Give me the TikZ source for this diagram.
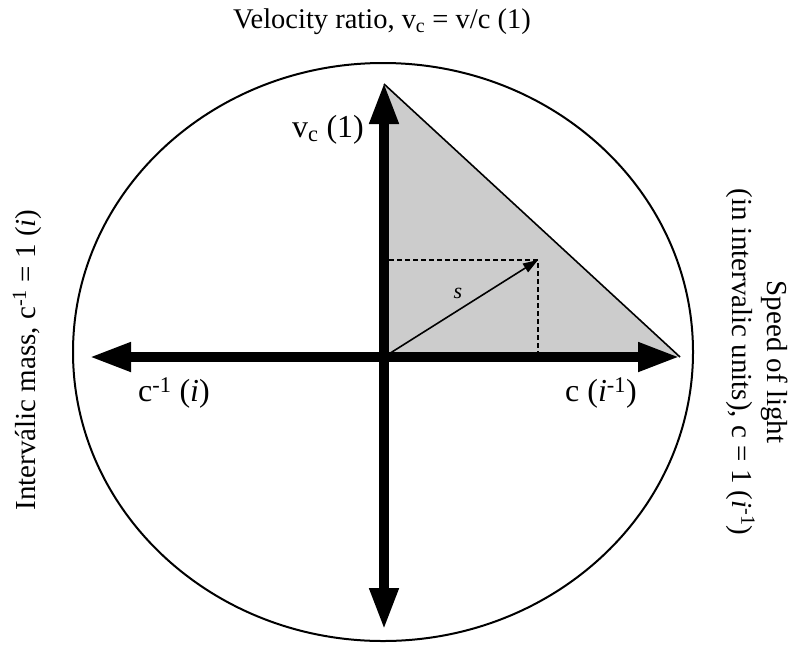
\documentclass[tikz,border=0pt]{standalone}
\usepackage{fontspec}
\setmainfont{Liberation Serif}
\usetikzlibrary{arrows.meta}
\tikzset{
  axis/.style={line width=10pt,{Triangle[length=42pt,width=27pt]}-{Triangle[length=42pt,width=27pt]}},
  thin/.style={line width=1.6pt},
  axlabel/.style={font=\fontsize{32}{36}\selectfont, inner sep=0pt},
  sidelabel/.style={font=\fontsize{29}{35}\selectfont, inner sep=0pt, align=center},
}
\begin{document}
\begin{tikzpicture}[x=1pt,y=-1pt]
\useasboundingbox (0,0) rectangle (791,646);
\coordinate (O) at (384,357);
\coordinate (T) at (384,82);
\coordinate (B) at (384,630);
\coordinate (L) at (89,357);
\coordinate (R) at (680,357);
\coordinate (TV) at (384,84);
\coordinate (P) at (538,260);
\coordinate (PX) at (538,357);
\coordinate (PY) at (389,260);
\fill[gray!40] (TV) -- (R) -- (O) -- cycle;
\draw[thin] (TV) -- (R);
\draw[thin, dashed, dash pattern=on 5pt off 3pt] (PY) -- (P) -- (PX);
\draw[thin, -{Triangle[length=15pt,width=10pt]}] (O) -- (P);
\draw[line width=2pt] (383,352) ellipse [x radius=310, y radius=289];
\draw[axis] (L) -- (R);
\draw[axis] (T) -- (B);
\node[font=\fontsize{22}{26}\selectfont\itshape] (s) at (458,293) {s};
\node[axlabel] (vc) at (328,130) {v\textsubscript{c} (1)};
\node[axlabel] (cinv) at (174,393) {c\textsuperscript{-1} (\textit{i})};
\node[axlabel] (c) at (601,393) {c (\textit{i}\textsuperscript{-1})};
\node[sidelabel, font=\fontsize{28.5}{34}\selectfont] (title) at (382,22) {Velocity ratio, v\textsubscript{c} = v/c (1)};
\node[sidelabel, rotate=90] (mass) at (27,360) {Interválic mass, c\textsuperscript{-1} = 1 (\textit{i})};
\node[sidelabel, rotate=-90] (speed) at (757,362) {Speed of light\\(in intervalic units), c = 1 (\textit{i}\textsuperscript{-1})};
\end{tikzpicture}
\end{document}
